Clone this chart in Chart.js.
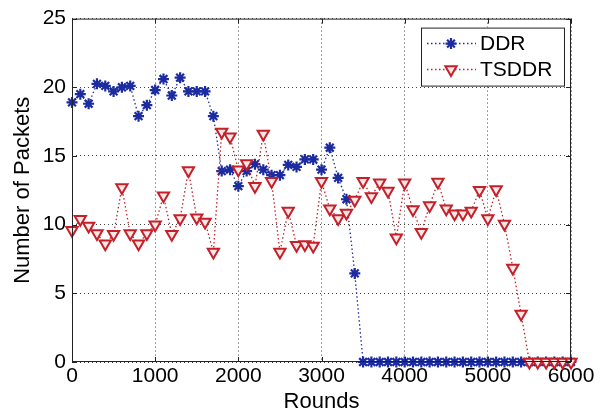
<!DOCTYPE html>
<html><head><meta charset="utf-8">
<script src="https://cdn.jsdelivr.net/npm/chart.js@4/dist/chart.umd.min.js"></script>
<style>html,body{margin:0;padding:0;background:#fff}#wrap{width:610px;height:413px}</style>
</head><body><div id="wrap"><canvas id="c" width="610" height="413"></canvas></div>
<script>
const rounds = [0,100,200,300,400,500,600,700,800,900,1000,1100,1200,1300,1400,1500,1600,1700,1800,1900,2000,2100,2200,2300,2400,2500,2600,2700,2800,2900,3000,3100,3200,3300,3400,3500,3600,3700,3800,3900,4000,4100,4200,4300,4400,4500,4600,4700,4800,4900,5000,5100,5200,5300,5400,5500,5600,5700,5800,5900,6000];
const ddr = [18.9,19.5,18.8,20.25,20.1,19.7,20.0,20.1,17.9,18.7,19.8,20.6,19.4,20.7,19.7,19.7,19.7,17.9,13.9,14.0,12.8,13.9,14.4,14.0,13.6,13.6,14.35,14.2,14.75,14.75,14.0,15.6,13.4,11.85,6.45,0,0,0,0,0,0,0,0,0,0,0,0,0,0,0,0,0,0,0,0,0,0,0,0,0,0];
const tsddr = [9.6,10.4,9.9,9.35,8.6,9.3,12.7,9.35,8.6,9.35,10.0,12.1,9.3,10.45,13.95,10.5,10.2,8.0,16.75,16.4,14.0,14.45,12.8,16.6,13.15,8.0,11.0,8.5,8.55,8.45,13.15,11.15,10.45,10.85,11.8,13.15,12.05,13.05,12.45,9.05,13.05,11.1,9.45,11.4,13.1,11.15,10.8,10.8,11.0,12.5,10.45,12.55,10.05,6.85,3.5,0,0,0,0,0,0];
const xTicks = [0,1000,2000,3000,4000,5000,6000];
const yTicks = [0,5,10,15,20,25];
const seriesNames = ['DDR','TSDDR'];
const xTitle = 'Rounds';
const yTitle = 'Number of Packets';

const FONT = '"Liberation Sans", Arial, sans-serif';
const BLUE = '#1c2ca0';
const RED = '#c4202a';

const frame = {
  id: 'frame',
  afterDatasetsDraw(chart) {
    const {ctx, chartArea: a, scales} = chart;
    ctx.save();
    ctx.strokeStyle = '#222';
    ctx.lineWidth = 1;
    ctx.setLineDash([]);
    ctx.strokeRect(a.left + 0.5, a.top + 0.5, a.right - a.left - 1, a.bottom - a.top - 1);
    ctx.beginPath();
    xTicks.forEach(v => {
      const x = Math.round(scales.x.getPixelForValue(v)) + 0.5;
      ctx.moveTo(x, a.bottom); ctx.lineTo(x, a.bottom - 5);
      ctx.moveTo(x, a.top); ctx.lineTo(x, a.top + 5);
    });
    yTicks.forEach(v => {
      const y = Math.round(scales.y.getPixelForValue(v)) + 0.5;
      ctx.moveTo(a.left, y); ctx.lineTo(a.left + 5, y);
      ctx.moveTo(a.right, y); ctx.lineTo(a.right - 5, y);
    });
    ctx.stroke();
    ctx.restore();
  },
  afterDraw(chart) {
    const {ctx, chartArea: a} = chart;
    const w = 143, h = 58;
    const bx = a.right - 7 - w, by = a.top + 9;
    ctx.save();
    ctx.fillStyle = '#fff';
    ctx.fillRect(bx, by, w, h);
    ctx.strokeStyle = '#222';
    ctx.lineWidth = 1;
    ctx.strokeRect(bx + 0.5, by + 0.5, w, h);
    chart.data.datasets.forEach((ds, i) => {
      const y = by + 16 + i * 26;
      ctx.save();
      ctx.strokeStyle = ds.borderColor;
      ctx.lineWidth = 1.5;
      ctx.setLineDash([1.5, 2.5]);
      ctx.beginPath();
      ctx.moveTo(bx + 6, y); ctx.lineTo(bx + 55, y);
      ctx.stroke();
      ctx.restore();
      ctx.save();
      ctx.fillStyle = ds.pointBackgroundColor;
      ctx.strokeStyle = ds.pointBorderColor;
      ctx.lineWidth = ds.pointBorderWidth;
      Chart.helpers.drawPoint(ctx, {pointStyle: ds.pointStyle, rotation: ds.pointRotation || 0, radius: ds.pointRadius, borderWidth: ds.pointBorderWidth}, bx + 30, y);
      ctx.restore();
      ctx.fillStyle = '#000';
      ctx.font = '21px ' + FONT;
      ctx.textBaseline = 'middle';
      ctx.textAlign = 'left';
      ctx.fillText(ds.label, bx + 59, y + 1);
    });
    ctx.restore();
  }
};

new Chart(document.getElementById('c'), {
  type: 'line',
  data: {
    datasets: [
      {
        label: seriesNames[0],
        data: rounds.map((r, i) => ({x: r, y: ddr[i]})),
        borderColor: BLUE, borderWidth: 1.3, borderDash: [1.5, 2.5],
        pointStyle: 'star', pointRadius: 5.5, pointBorderWidth: 2.2,
        pointBorderColor: BLUE, pointBackgroundColor: BLUE,
        tension: 0, clip: false, order: 2
      },
      {
        label: seriesNames[1],
        data: rounds.map((r, i) => ({x: r, y: tsddr[i]})),
        borderColor: RED, borderWidth: 1.3, borderDash: [1.5, 2.5],
        pointStyle: 'triangle', pointRotation: 180, pointRadius: 6.5, pointBorderWidth: 2,
        pointBorderColor: RED, pointBackgroundColor: '#fbe6e6',
        tension: 0, clip: false, order: 1
      }
    ]
  },
  options: {
    responsive: false, animation: false, devicePixelRatio: 1,
    layout: {padding: {left: 0, right: 39, top: 13, bottom: 0}},
    plugins: {legend: {display: false}, tooltip: {enabled: false}},
    scales: {
      x: {
        type: 'linear', min: 0, max: 6000,
        afterBuildTicks: s => { s.ticks = xTicks.map(v => ({value: v})); },
        afterFit: s => { s.height = 51; },
        grid: {color: '#444', lineWidth: 1, drawTicks: false},
        border: {display: false, dash: [1, 3]},
        ticks: {color: '#000', font: {family: FONT, size: 21}, padding: 2, maxRotation: 0, callback: v => String(v)},
        title: {display: true, text: xTitle, color: '#000', font: {family: FONT, size: 22, lineHeight: 1}, padding: {top: 0, bottom: 0}}
      },
      y: {
        type: 'linear', min: 0, max: 25,
        afterBuildTicks: s => { s.ticks = yTicks.map(v => ({value: v})); },
        afterFit: s => { s.width = 72; },
        grid: {color: '#444', lineWidth: 1, drawTicks: false},
        border: {display: false, dash: [1, 3]},
        ticks: {color: '#000', font: {family: FONT, size: 21}, padding: 6, callback: v => String(v)},
        title: {display: true, text: yTitle, color: '#000', font: {family: FONT, size: 22, lineHeight: 1}, padding: {top: 12, bottom: 0}}
      }
    }
  },
  plugins: [frame]
});
</script>
</body></html>
